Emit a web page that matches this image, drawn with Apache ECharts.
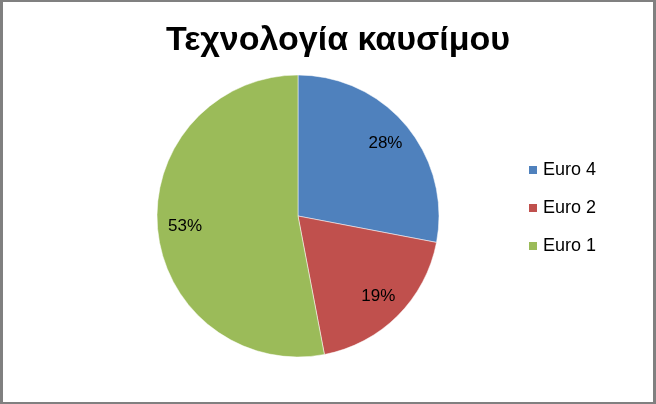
<!DOCTYPE html>
<html>
<head>
<meta charset="utf-8">
<script src="https://cdn.jsdelivr.net/npm/echarts@6/dist/echarts.min.js"></script>
<style>
  html, body { margin: 0; padding: 0; background: #fff; }
  #chart {
    width: 650px; height: 400px;
    border-style: solid; border-color: #808080;
    border-width: 2px 3px 2px 3px;
  }
</style>
</head>
<body>
<div id="chart"></div>
<script>
	var names = ['Euro 4', 'Euro 2', 'Euro 1'];
	var values = [28, 19, 53];
	var colors = ['#4F81BD', '#C0504D', '#9BBB59'];

	var pieData = [];
	for (var i = 0; i < names.length; i++) {
		pieData.push({ name: names[i], value: values[i], itemStyle: { color: colors[i] } });
	}

	var myChart = echarts.init(document.getElementById('chart'));
	var option = {
		animation: false,
		title: {
			text: 'Τεχνολογία καυσίμου',
			left: 330, top: 17, textAlign: 'center',
			textStyle: { fontFamily: 'Liberation Sans', fontWeight: 'bold', fontSize: 34, color: '#000' }
		},
		legend: {
			orient: 'vertical',
			left: 519, top: 153,
			itemWidth: 10, itemHeight: 10,
			itemGap: 18,
			icon: 'rect',
			data: names,
			textStyle: { fontFamily: 'Liberation Sans', fontSize: 18, color: '#000', lineHeight: 20 }
		},
		series: [
			{
				type: 'pie',
				center: [295, 214],
				radius: 141,
				startAngle: 90,
				clockwise: true,
				silent: true,
				label: { show: false },
				labelLine: { show: false },
				itemStyle: { borderColor: '#fff', borderWidth: 0.5 },
				data: pieData
			},
			{
				// transparent ring only used to place the percent labels
				type: 'pie',
				center: [295, 214],
				radius: [80, 141],
				startAngle: 90,
				clockwise: true,
				silent: true,
				legendHoverLink: false,
				itemStyle: { color: 'rgba(0,0,0,0)' },
				label: {
					show: true, position: 'inside', formatter: '{c}%',
					fontFamily: 'Liberation Sans', fontSize: 17, color: '#000'
				},
				labelLine: { show: false },
				data: names.map(function (n, i) { return { name: n, value: values[i] }; })
			}
		]
	};
	myChart.setOption(option);
</script>
</body>
</html>
